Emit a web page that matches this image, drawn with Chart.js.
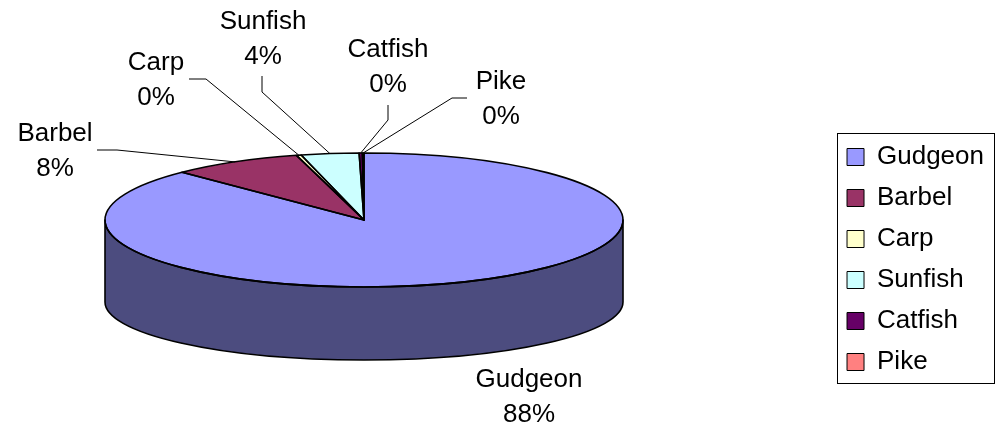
<!DOCTYPE html>
<html>
<head>
<meta charset="utf-8">
<script src="https://cdn.jsdelivr.net/npm/chart.js@4/dist/chart.umd.min.js"></script>
<style>
  html, body { margin: 0; padding: 0; background: #fff; overflow: hidden; }
  canvas { display: block; }
</style>
</head>
<body>
<canvas id="c" width="1001" height="428"></canvas>
<script>
// Fish caught, by species
const categories = ['Gudgeon', 'Barbel', 'Carp', 'Sunfish', 'Catfish', 'Pike'];
const catchCounts = [876, 82, 3, 36, 2, 1];
const sliceColors = ['#9999FF', '#993366', '#FFFFCC', '#CCFFFF', '#660066', '#FF8080'];

const FONT = '"Liberation Sans", Arial, Helvetica, sans-serif';

// Tilted disc geometry: top face ellipse and the lower rim of the side wall
const DISC = { cx: 364, cy: 220, rx: 259, ry: 67, sideDrop: 82, bottomRy: 58 };

// Where each category label sits (centre of its two-line block) and the
// bend of its leader line; the line then runs to the middle of the slice rim.
const LABEL_SPOTS = {
  Gudgeon: { x: 529, y: 397.5, lead: null },
  Barbel:  { x: 55,  y: 151.5, lead: [[97, 150], [117, 150]] },
  Carp:    { x: 156, y: 80,    lead: [[189, 79], [206, 79]] },
  Sunfish: { x: 263, y: 39,    lead: [[262, 76], [262, 92]] },
  Catfish: { x: 388, y: 67.5,  lead: [[388, 105], [388, 120]] },
  Pike:    { x: 501, y: 99.5,  lead: [[467, 98], [452, 98]] }
};

function shade(hex, f) {
  const n = parseInt(hex.slice(1), 16);
  const r = Math.floor(((n >> 16) & 255) * f);
  const g = Math.floor(((n >> 8) & 255) * f);
  const b = Math.floor((n & 255) * f);
  return `rgb(${r},${g},${b})`;
}

function rimPoint(a) {
  return [DISC.cx + DISC.rx * Math.cos(a), DISC.cy + DISC.ry * Math.sin(a)];
}

function wallPath(ctx, a0, a1) {
  const { cx, cy, rx, ry, sideDrop, bottomRy } = DISC;
  ctx.beginPath();
  ctx.ellipse(cx, cy, rx, ry, 0, a0, a1, false);
  ctx.lineTo(cx + rx * Math.cos(a1), cy + sideDrop + bottomRy * Math.sin(a1));
  ctx.ellipse(cx, cy + sideDrop, rx, bottomRy, 0, a1, a0, true);
  ctx.closePath();
}

// front-facing part of an arc (canvas angles between 0 and PI, mod 2PI)
function frontSpans(start, end) {
  const spans = [];
  for (let k = -2; k <= 2; k++) {
    const lo = Math.max(start, 2 * Math.PI * k);
    const hi = Math.min(end, 2 * Math.PI * k + Math.PI);
    if (hi > lo) spans.push([lo, hi]);
  }
  return spans;
}

const tiltedDisc = {
  id: 'tiltedDisc',
  beforeDatasetsDraw(chart) {
    const ctx = chart.ctx;
    const arcs = chart.getDatasetMeta(0).data;
    // side wall of the disc
    ctx.save();
    arcs.forEach((arc, i) => {
      frontSpans(arc.startAngle, arc.endAngle).forEach(([a0, a1]) => {
        wallPath(ctx, a0, a1);
        ctx.fillStyle = shade(sliceColors[i], 0.5);
        ctx.fill();
      });
    });
    ctx.restore();
    // the library's own slices, squashed onto the top face
    const a = arcs[0];
    ctx.save();
    ctx.translate(DISC.cx, DISC.cy);
    ctx.scale(DISC.rx / a.outerRadius, DISC.ry / a.outerRadius);
    ctx.translate(-a.x, -a.y);
  },
  afterDatasetsDraw(chart) {
    const ctx = chart.ctx;
    ctx.restore();
    const arcs = chart.getDatasetMeta(0).data;
    const total = catchCounts.reduce((s, v) => s + v, 0);

    ctx.save();
    ctx.strokeStyle = '#000';
    ctx.lineJoin = 'round';
    ctx.lineWidth = 1.6;
    // wall outlines
    arcs.forEach((arc) => {
      frontSpans(arc.startAngle, arc.endAngle).forEach(([a0, a1]) => {
        wallPath(ctx, a0, a1);
        ctx.stroke();
      });
    });
    // slice outlines on the top face
    arcs.forEach((arc) => {
      ctx.beginPath();
      ctx.moveTo(DISC.cx, DISC.cy);
      ctx.ellipse(DISC.cx, DISC.cy, DISC.rx, DISC.ry, 0, arc.startAngle, arc.endAngle, false);
      ctx.closePath();
      ctx.stroke();
    });

    // labels with leader lines
    ctx.font = `26px ${FONT}`;
    ctx.fillStyle = '#000';
    ctx.textAlign = 'center';
    ctx.textBaseline = 'middle';
    ctx.lineWidth = 1;
    arcs.forEach((arc, i) => {
      const name = categories[i];
      const spot = LABEL_SPOTS[name];
      const pct = Math.round(catchCounts[i] / total * 100);
      ctx.fillText(name, spot.x, spot.y - 17.5);
      ctx.fillText(pct + '%', spot.x, spot.y + 17.5);
      if (spot.lead) {
        const mid = (arc.startAngle + arc.endAngle) / 2;
        const [px, py] = rimPoint(mid);
        ctx.beginPath();
        ctx.moveTo(spot.lead[0][0], spot.lead[0][1]);
        ctx.lineTo(spot.lead[1][0], spot.lead[1][1]);
        ctx.lineTo(px, py);
        ctx.stroke();
      }
    });
    ctx.restore();
  },
  afterDraw(chart) {
    // frame round the legend
    const boxes = chart.legend && chart.legend.legendHitBoxes;
    if (!boxes || !boxes.length) return;
    const left = Math.min(...boxes.map(b => b.left)) - 10;
    const top = Math.min(...boxes.map(b => b.top)) - 11;
    const right = Math.max(...boxes.map(b => b.left + b.width)) + 10;
    const bottom = Math.max(...boxes.map(b => b.top + b.height)) + 8;
    const ctx = chart.ctx;
    ctx.save();
    ctx.strokeStyle = '#000';
    ctx.lineWidth = 1;
    ctx.strokeRect(Math.round(left) + 0.5, Math.round(top) + 0.5,
                   Math.round(right - left), Math.round(bottom - top));
    ctx.restore();
  }
};

new Chart(document.getElementById('c'), {
  type: 'pie',
  data: {
    labels: categories,
    datasets: [{
      data: catchCounts,
      backgroundColor: sliceColors,
      borderWidth: 0,
      clip: false
    }]
  },
  options: {
    responsive: false,
    animation: false,
    layout: { padding: { top: 91, right: 7, bottom: 0, left: 0 } },
    plugins: {
      tooltip: { enabled: false },
      legend: {
        position: 'right',
        labels: {
          font: { size: 26, family: FONT },
          color: '#000',
          boxWidth: 17,
          boxHeight: 17,
          padding: 15,
          generateLabels(chart) {
            const base = Chart.overrides.doughnut.plugins.legend.labels.generateLabels(chart);
            return base.map(item => Object.assign(item, { strokeStyle: '#000', lineWidth: 1 }));
          }
        }
      }
    }
  },
  plugins: [tiltedDisc]
});
</script>
</body>
</html>
